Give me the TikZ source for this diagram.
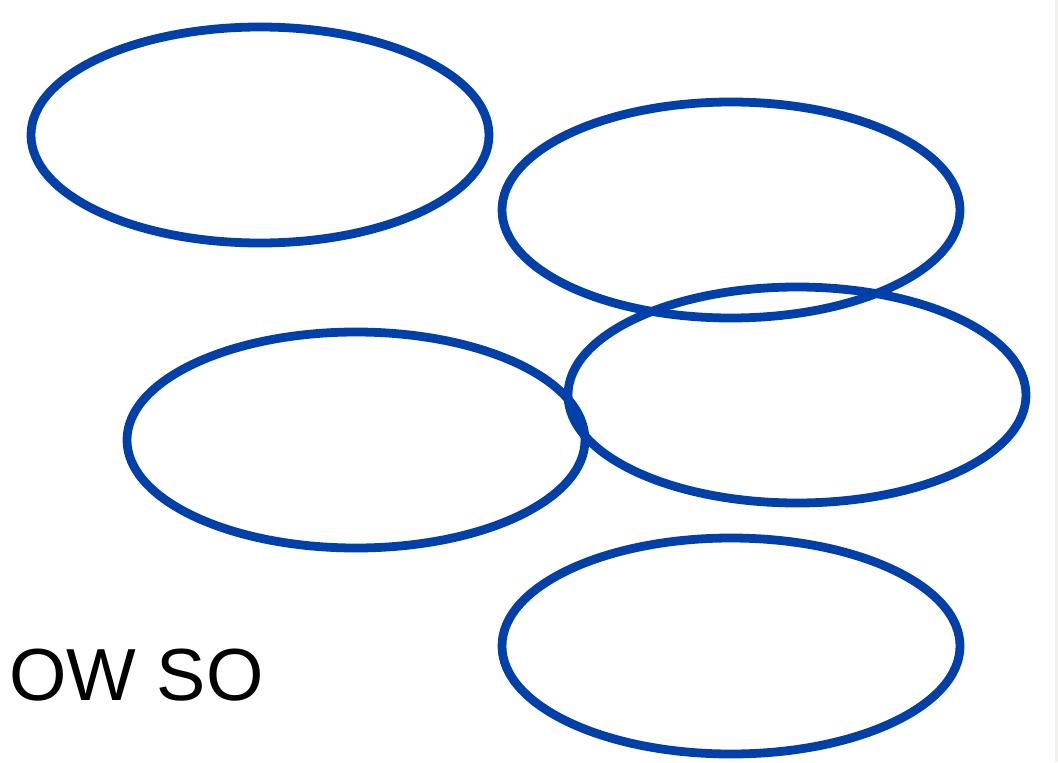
\documentclass[tikz,border=0pt]{standalone}
\usepackage{fontspec}
\setmainfont{Liberation Sans}
\usepackage{tikz}
\usetikzlibrary{shapes.geometric}
\definecolor{ringblue}{RGB}{0,64,168}
\definecolor{edgegray}{RGB}{243,241,236}

\begin{document}
\begin{tikzpicture}[
		ring/.style={ellipse,draw=ringblue,line width=5pt,inner sep=0pt,
			minimum width=9.16cm,minimum height=4.32cm}]
		% frame of the page
		\useasboundingbox (0,0) rectangle (21.16,-15.24);
		\fill[edgegray] (21.10,0) rectangle (21.16,-15.24);
		
		% the five rings
		\node[ring] (ringA) at (5.20,-2.70) {};
		\node[ring] (ringB) at (14.62,-4.20) {};
		\node[ring] (ringC) at (7.12,-8.80) {};
		\node[ring] (ringD) at (15.94,-7.90) {};
		\node[ring] (ringE) at (14.62,-12.92) {};
		
		% text in the lower left corner
		\node[anchor=base west,inner sep=0pt,font=\fontsize{42}{48}\selectfont] (caption) at (0.18,-14.0) {OW SO};
	\end{tikzpicture}
\end{document}
